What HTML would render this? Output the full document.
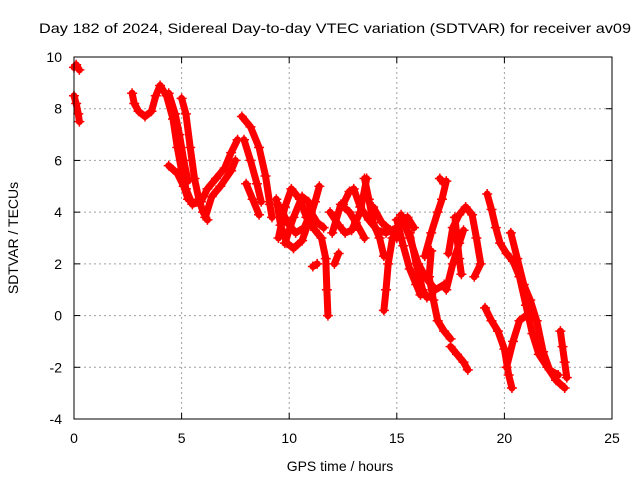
<!DOCTYPE html>
<html><head><meta charset="utf-8">
<style>
body{margin:0;background:#fff;}
svg{display:block;font-family:"Liberation Sans",sans-serif;}
</style></head>
<body>
<svg id="chart" width="640" height="480" viewBox="0 0 640 480" xmlns="http://www.w3.org/2000/svg">
<text x="39" y="33" font-size="14" textLength="592" lengthAdjust="spacingAndGlyphs">Day 182 of 2024, Sidereal Day-to-day VTEC variation (SDTVAR) for receiver av09</text>
<g id="grid"></g>
<g id="ticks"></g>
<g id="series"></g>
<rect x="74" y="57" width="538" height="362" fill="none" stroke="#000" stroke-width="1"/>
<text x="340" y="471" font-size="14" text-anchor="middle">GPS time / hours</text>
<text x="0" y="0" font-size="14" text-anchor="middle" transform="translate(18,238) rotate(-90)">SDTVAR / TECUs</text>
</svg>
<script>
const xTicks=[0,5,10,15,20,25];
const yTicks=[-4,-2,0,2,4,6,8,10];
const tracks=[
[[0,9.6],[0.1,9.7],[0.25,9.5]],
[[0,8.5],[0.1,8.2],[0.2,7.8],[0.25,7.5]],
[[2.7,8.6],[2.8,8.2],[3.0,7.9],[3.3,7.7],[3.6,7.9],[3.8,8.5],[4.0,8.9],[4.3,8.5],[4.6,7.6],[4.8,6.5],[5.0,5.6],[5.2,4.9],[5.5,4.3],[5.9,4.4],[6.2,4.9],[6.6,5.3],[7.0,5.7],[7.3,6.3],[7.6,6.8]],
[[5.0,8.4],[5.2,7.8],[5.4,6.5],[5.6,5.3],[5.8,4.5],[6.0,4.0],[6.2,3.7]],
[[4.4,8.6],[4.7,7.8],[4.9,7.0],[5.1,6.0],[5.3,5.2]],
[[4.4,5.8],[4.8,5.5],[5.1,5.0],[5.3,4.5]],
[[6.1,3.8],[6.4,4.6],[6.8,5.0],[7.3,5.6],[7.5,6.0]],
[[7.8,7.7],[8.2,7.3],[8.6,6.5],[8.9,5.4],[9.1,4.3],[9.2,3.8]],
[[7.9,6.8],[8.2,6.0],[8.5,5.1],[8.7,4.4]],
[[8.0,5.1],[8.3,4.5],[8.6,3.9]],
[[9.4,4.5],[9.6,3.5],[9.9,2.8],[10.2,2.6],[10.6,2.9],[10.9,3.6],[11.2,4.4],[11.4,5.0]],
[[9.5,3.0],[9.8,4.2],[10.1,4.9],[10.5,4.5],[10.8,3.8],[11.2,3.3],[11.5,3.0],[11.7,2.2],[11.75,1.0],[11.8,0.0]],
[[9.6,4.2],[9.9,3.6],[10.3,3.2],[10.7,3.4],[11.0,4.0],[11.3,3.6],[11.6,3.4]],
[[9.8,2.8],[10.2,3.8],[10.6,4.6],[10.9,4.4],[11.2,3.5]],
[[11.1,1.9],[11.3,2.0]],
[[12.1,2.0],[12.3,2.4]],
[[11.9,4.0],[12.3,3.5],[12.6,3.2],[12.9,3.3],[13.3,4.0],[13.6,5.3]],
[[12.0,3.2],[12.4,4.3],[12.8,4.0],[13.1,3.6],[13.5,3.0]],
[[12.5,4.3],[12.8,4.8],[13.0,4.9],[13.3,4.2],[13.7,3.7],[14.1,3.3],[14.5,3.2],[15.0,3.4],[15.5,3.8],[15.8,3.4]],
[[13.5,5.3],[13.7,4.5],[13.9,3.6],[14.2,3.0],[14.4,2.3]],
[[13.9,4.2],[14.3,3.6],[14.7,3.3],[15.0,3.0]],
[[14.8,3.0],[14.6,2.0],[14.5,1.0],[14.4,0.2]],
[[15.0,3.7],[15.3,2.7],[15.6,1.8],[15.9,1.2],[16.1,0.8]],
[[15.2,3.9],[15.6,3.0],[16.0,2.0],[16.4,1.4],[16.8,1.0],[17.2,1.2]],
[[15.6,3.2],[15.9,2.0],[16.2,1.0],[16.4,0.7]],
[[16.6,2.5],[16.5,1.5],[16.7,0.6],[16.9,-0.2],[17.2,-0.6],[17.5,-0.9]],
[[16.3,2.3],[16.6,3.2],[16.9,4.0],[17.1,4.5],[17.3,5.2]],
[[17.0,5.3],[17.2,5.1]],
[[17.4,2.4],[17.6,3.4],[17.9,3.9],[18.2,4.2],[18.5,3.9],[18.7,3.0],[18.9,2.0],[18.6,1.5]],
[[17.3,1.0],[17.6,2.0],[17.9,2.8],[18.1,3.3]],
[[17.7,3.8],[17.8,3.0],[17.9,2.2],[18.0,1.6]],
[[17.5,-1.2],[17.8,-1.5],[18.1,-1.8],[18.3,-2.1]],
[[19.2,4.7],[19.4,4.1],[19.6,3.4],[19.8,2.8],[20.1,2.4],[20.4,2.1],[20.7,1.5],[21.0,0.4],[21.3,-0.7],[21.6,-1.5],[22.0,-2.0],[22.4,-2.5],[22.8,-2.8]],
[[20.3,3.2],[20.6,2.2],[20.9,1.2],[21.2,0.6],[21.5,-0.2],[21.8,-1.4],[22.1,-2.1],[22.5,-2.3]],
[[19.1,0.3],[19.4,-0.2],[19.7,-0.6],[20.0,-1.3],[20.2,-2.3],[20.35,-2.8]],
[[20.1,-2.0],[20.4,-1.0],[20.7,-0.2],[21.0,0.0],[21.3,-0.1]],
[[22.6,-0.6],[22.7,-1.2],[22.8,-1.8],[22.9,-2.4]]
];
const NS="http://www.w3.org/2000/svg";
const X0=74,X1=612,Y0=419,Y1=57;
function xs(t){return X0+(t-0)/(25-0)*(X1-X0);}
function ys(v){return Y0-(v+4)/(10+4)*(Y0-Y1);}
function mk(tag,attrs,parent){const e=document.createElementNS(NS,tag);for(const k in attrs)e.setAttribute(k,attrs[k]);parent.appendChild(e);return e;}
const grid=document.getElementById('grid'),ticks=document.getElementById('ticks'),series=document.getElementById('series');
xTicks.forEach(t=>{
  const x=xs(t);
  if(t>0&&t<25){const g=mk('line',{x1:x,x2:x,y1:Y1,y2:Y0,stroke:'#a0a0a0','stroke-dasharray':'2,3'},grid);
  
  }
  mk('line',{x1:x,x2:x,y1:Y0,y2:Y0-6,stroke:'#000'},ticks);
  mk('line',{x1:x,x2:x,y1:Y1,y2:Y1+6,stroke:'#000'},ticks);
  const l=mk('text',{x:x,y:443,'font-size':14,'text-anchor':'middle'},ticks);
  l.textContent=t;
  
  
});
yTicks.forEach(v=>{
  const y=ys(v);
  if(v>-4&&v<10){const g=mk('line',{x1:X0,x2:X1,y1:y,y2:y,stroke:'#a0a0a0','stroke-dasharray':'2,3'},grid);
  
  }
  mk('line',{x1:X0,x2:X0+6,y1:y,y2:y,stroke:'#000'},ticks);
  mk('line',{x1:X1,x2:X1-6,y1:y,y2:y,stroke:'#000'},ticks);
  const l=mk('text',{x:62,y:y+5,'font-size':14,'text-anchor':'end'},ticks);
  l.textContent=v;
  
  
});
tracks.forEach(tr=>{
  const p=mk('polyline',{points:tr.map(d=>xs(d[0])+','+ys(d[1])).join(' '),fill:'none',stroke:'#ff0000','stroke-width':7,'stroke-linejoin':'round','stroke-linecap':'round'},series);
  
  
  tr.forEach(d=>{
    const x=xs(d[0]),y=ys(d[1]);
    const m=mk('path',{d:`M${x-5},${y}H${x+5}M${x},${y-5}V${y+5}`,stroke:'#ff0000','stroke-width':1.5},series);
    
    
  });
});
</script>
</body></html>
